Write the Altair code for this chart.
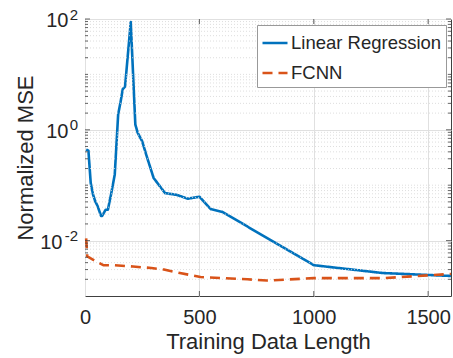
import altair as alt
import pandas as pd

# ---- data ----
lr_x = [5, 15, 25, 35, 45, 55, 70, 75, 90, 100, 115, 130, 145, 155, 165, 175, 200,
        220, 230, 250, 270, 300, 350, 400, 450, 500, 550, 600, 1000, 1300, 1600]
lr_y = [0.44, 0.42, 0.11, 0.068, 0.051, 0.042, 0.028, 0.028, 0.036, 0.036, 0.072, 0.155,
        1.9, 3.1, 5.4, 6.0, 88, 1.25, 0.89, 0.62, 0.33, 0.135, 0.072, 0.067, 0.057,
        0.062, 0.037, 0.033, 0.0036, 0.0026, 0.0023]

fc_x = [5, 10, 45, 80, 125, 210, 290, 345, 415, 505, 605, 710, 795, 1000, 1300, 1600]
fc_y = [0.011, 0.0052, 0.0043, 0.0036, 0.0036, 0.0034, 0.0032, 0.0030, 0.0026, 0.0022,
        0.0021, 0.0020, 0.0019, 0.0021, 0.0021, 0.0025]

series_names = ["Linear Regression", "FCNN"]
series_colors = ["#0072BD", "#D95319"]

x_ticks = [0, 500, 1000, 1500]
y_major = [1e-2, 1, 1e2]
y_exp = ["-2", "0", "2"]
decades = [1e-3, 1e-2, 1e-1, 1, 10]
mantissas = [1, 2, 3, 4, 5, 6, 7, 8, 9]

FONT = "Liberation Sans"
TXT = "#262626"
W, H = 366, 277

lines_df = pd.concat([
    pd.DataFrame({"x": lr_x, "y": lr_y, "series": series_names[0]}),
    pd.DataFrame({"x": fc_x, "y": fc_y, "series": series_names[1]}),
])

minor_vals = [m * d for d in decades for m in mantissas if (m * d) not in y_major]
minor_vals = [v for v in minor_vals if 1e-3 < v < 1e2]
minor_df = pd.DataFrame({"v": minor_vals})
major_df = pd.DataFrame({"v": y_major, "exp": y_exp})
xt_df = pd.DataFrame({"t": [t for t in x_ticks if t > 0]})

yscale = alt.Scale(type="log", domain=[1e-3, 1e2], nice=False)
xscale = alt.Scale(domain=[0, 1600], nice=False)

x_axis = alt.Axis(values=x_ticks, format="d", grid=True, gridColor="#e0e0e0", gridWidth=1,
                  domain=False, ticks=False,
                  labelFontSize=20, labelFont=FONT, labelColor=TXT,
                  labelBaseline="alphabetic", labelPadding=27, labelFlush=False,
                  title="Training Data Length", titleFontSize=22, titleFont=FONT,
                  titleFontWeight="normal", titleColor=TXT,
                  titleBaseline="alphabetic", titleY=52)
y_axis = alt.Axis(values=y_major, grid=True, gridColor="#e0e0e0", gridWidth=1,
                  domain=False, ticks=False, labels=False,
                  title="Normalized MSE", titleFontSize=22, titleFont=FONT,
                  titleFontWeight="normal", titleColor=TXT,
                  titleAngle=270, titleAlign="center", titleBaseline="alphabetic",
                  titleX=-53, titleY=138.5)

X = lambda f: alt.X(f, scale=xscale, axis=x_axis, title="Training Data Length")
Y = lambda f: alt.Y(f, scale=yscale, axis=y_axis, title="Normalized MSE")

color_enc = alt.Color("series:N", scale=alt.Scale(domain=series_names, range=series_colors),
                      title=None)
dash_enc = alt.StrokeDash("series:N",
                          scale=alt.Scale(domain=series_names, range=[[1, 0], [10, 6]]),
                          title=None)

base_lines = alt.Chart(lines_df).mark_line(strokeWidth=2.6, strokeJoin="round").encode(
    x=X("x:Q"), y=Y("y:Q"), color=color_enc, strokeDash=dash_enc,
)
line_lr = base_lines.transform_filter(alt.datum.series == series_names[0])
line_fc = base_lines.transform_filter(alt.datum.series == series_names[1])

minor_grid = alt.Chart(minor_df).mark_rule(
    color="#d6d6d6", strokeWidth=0.8, strokeDash=[1, 2]
).encode(y=Y("v:Q"))

tick_style = dict(color="#404040", strokeWidth=0.8)
yt_left_major = alt.Chart(major_df).mark_rule(**tick_style).encode(
    y=Y("v:Q"), x=alt.value(0), x2=alt.value(5))
yt_left_minor = alt.Chart(minor_df).mark_rule(**tick_style).encode(
    y=Y("v:Q"), x=alt.value(0), x2=alt.value(3))
yt_right_major = alt.Chart(major_df).mark_rule(**tick_style).encode(
    y=Y("v:Q"), x=alt.value(W - 5), x2=alt.value(W))
yt_right_minor = alt.Chart(minor_df).mark_rule(**tick_style).encode(
    y=Y("v:Q"), x=alt.value(W - 3), x2=alt.value(W))
xt_bottom = alt.Chart(xt_df).mark_rule(**tick_style).encode(
    x=X("t:Q"), y=alt.value(H - 5), y2=alt.value(H))
xt_top = alt.Chart(xt_df).mark_rule(**tick_style).encode(
    x=X("t:Q"), y=alt.value(0), y2=alt.value(5))

exp_text = alt.Chart(major_df).mark_text(
    font=FONT, fontSize=15, color=TXT, align="right", baseline="middle", dy=-4.5
).encode(y=Y("v:Q"), x=alt.value(-7), text="exp:N")
base_short = alt.Chart(major_df).transform_filter("length(datum.exp) == 1").mark_text(
    font=FONT, fontSize=20, color=TXT, align="right", baseline="middle", dy=2
).encode(y=Y("v:Q"), x=alt.value(-16.5), text=alt.value("10"))
base_long = alt.Chart(major_df).transform_filter("length(datum.exp) == 2").mark_text(
    font=FONT, fontSize=20, color=TXT, align="right", baseline="middle", dy=2
).encode(y=Y("v:Q"), x=alt.value(-22.5), text=alt.value("10"))

chart = alt.layer(
    line_lr, minor_grid, line_fc, yt_left_major, yt_left_minor, yt_right_major,
    yt_right_minor, xt_bottom, xt_top, exp_text, base_short, base_long,
).properties(
    width=W, height=H,
    autosize=alt.AutoSizeParams(type="none"),
    padding={"left": 85, "top": 19, "right": 2, "bottom": 62},
).configure_view(
    stroke="#404040", strokeWidth=1
).configure_legend(
    orient="none", legendX=172, legendY=6,
    symbolType="stroke", symbolSize=625, symbolStrokeWidth=2.6,
    labelFont=FONT, labelFontSize=18.5, labelColor=TXT, labelOffset=2,
    padding=4, rowPadding=6, fillColor="white", strokeColor="#999999",
    cornerRadius=0,
)

chart.save("out.html", embed_options={"renderer": "svg", "actions": False})
